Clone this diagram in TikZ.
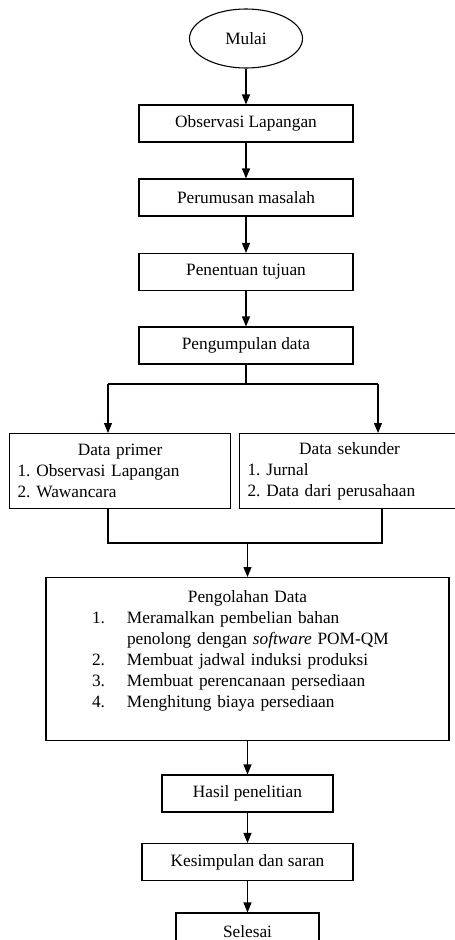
\documentclass[tikz,border=0pt]{standalone}
\usepackage{fontspec}
\setmainfont{Liberation Serif}
\usetikzlibrary{shapes.geometric,arrows.meta}
\setlength{\parindent}{0pt}
\frenchspacing
\begin{document}
\begin{tikzpicture}[x=1pt,y=-1pt,
  every node/.style={font=\fontsize{17.3}{21}\selectfont},
  box/.style={draw,line width=1.1pt,inner sep=0pt,minimum height=37pt},
  listbox/.style={draw,line width=1.1pt,inner xsep=8pt,inner ysep=4pt,align=left},
  flow/.style={line width=1.1pt,-{Triangle[length=10pt,width=8pt]}},
  link/.style={line width=1.1pt}]
\useasboundingbox (0,0) rectangle (455,940);

% Start and first steps
\node[draw,line width=1.1pt,ellipse,inner sep=0pt,minimum width=113pt,minimum height=59pt] (mulai) at (246,38.5) {Mulai};
\node[box,minimum width=214pt] (observasi) at (246,123.5) {Observasi Lapangan};
\node[box,minimum width=214pt] (perumusan) at (246,197.5) {Perumusan masalah};
\node[box,minimum width=214pt] (tujuan) at (246,272) {Penentuan tujuan};
\node[box,minimum width=214pt] (pengumpulan) at (246,345.5) {Pengumpulan data};

\draw[flow] (mulai) -- (observasi);
\draw[flow] (observasi) -- (perumusan);
\draw[flow] (perumusan) -- (tujuan);
\draw[flow] (tujuan) -- (pengumpulan);

% Data sources
\node[listbox,anchor=north west,text width=205pt,minimum height=75pt] (primer) at (9,433)
  {{\centering Data primer\par}1. Observasi Lapangan\\2. Wawancara};
\node[listbox,anchor=north west,text width=204pt,minimum height=75pt] (sekunder) at (239,433)
  {{\centering Data sekunder\par}1. Jurnal\\2. Data dari perusahaan};

\coordinate (splitL) at (108,384);
\coordinate (splitR) at (378,384);
\draw[link] (pengumpulan) -- (pengumpulan.south |- splitL);
\draw[link] (splitL) -- (splitR);
\draw[flow] (splitL) -- (splitL |- primer.north);
\draw[flow] (splitR) -- (splitR |- sekunder.north);

% Processing
\node[listbox,anchor=north,text width=387pt,minimum height=163pt,inner ysep=9pt] (pengolahan) at (247.5,577)
  {{\centering Pengolahan Data\par}\hspace*{38pt}\begin{tabular}[t]{@{}p{35pt}@{}l@{}}
  1. & Meramalkan pembelian bahan\\
     & penolong dengan \textit{software} POM-QM\\
  2. & Membuat jadwal induksi produksi\\
  3. & Membuat perencanaan persediaan\\
  4. & Menghitung biaya persediaan\\[13pt]
  \end{tabular}};

\coordinate (joinL) at (108,543);
\coordinate (joinR) at (382,543);
\draw[link] (primer.south -| joinL) -- (joinL) -- (joinR) -- (joinR |- sekunder.south);
\draw[flow] (pengolahan.north |- joinL) -- (pengolahan);

% Results and end
\node[box,minimum width=171pt] (hasil) at (247.5,793.5) {Hasil penelitian};
\node[box,minimum width=211pt] (kesimpulan) at (247.5,862) {Kesimpulan dan saran};
\node[box,minimum width=143pt] (selesai) at (247.5,931.5) {Selesai};

\draw[flow] (pengolahan) -- (hasil);
\draw[flow] (hasil) -- (kesimpulan);
\draw[flow] (kesimpulan) -- (selesai);
\end{tikzpicture}
\end{document}
